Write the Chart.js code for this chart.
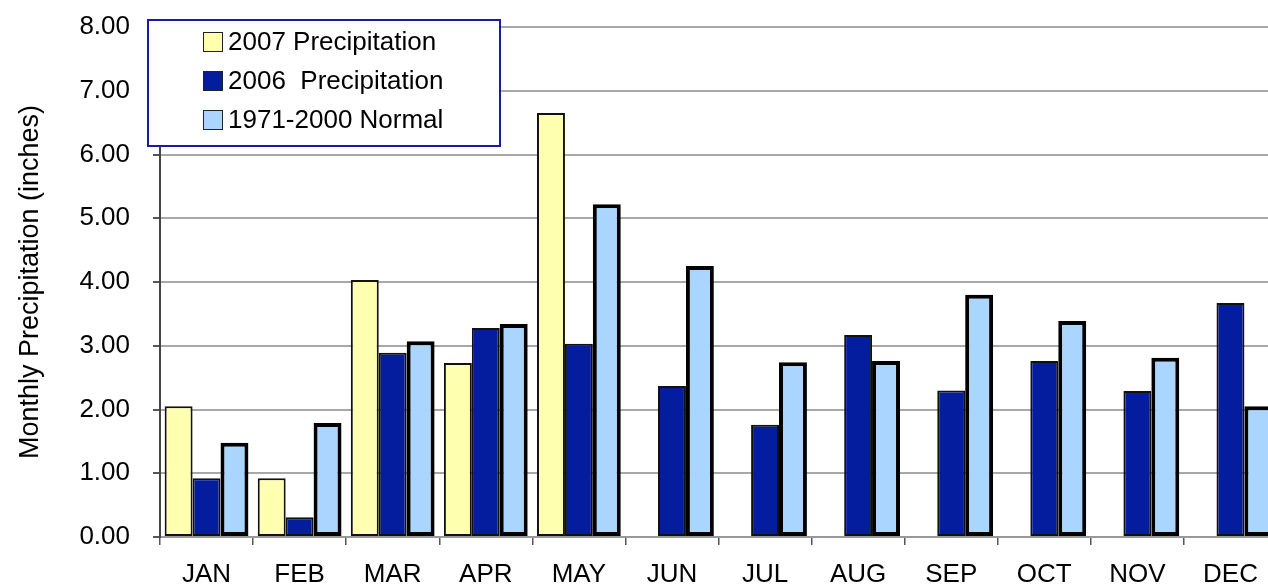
<!DOCTYPE html>
<html>
<head>
<meta charset="utf-8">
<script src="https://cdn.jsdelivr.net/npm/chart.js@4"></script>
<style>
  html, body { margin: 0; padding: 0; background: #fff; overflow: hidden; }
  #wrap { width: 1290px; height: 585px; }
</style>
</head>
<body>
<div id="wrap"><canvas id="precipChart" width="1290" height="585"></canvas></div>
<script>
// monthly precipitation, inches
const months = ['JAN', 'FEB', 'MAR', 'APR', 'MAY', 'JUN', 'JUL', 'AUG', 'SEP', 'OCT', 'NOV', 'DEC'];
const precip2007 = [2.05, 0.92, 4.03, 2.73, 6.65, null, null, null, null, null, null, null];
const precip2006 = [0.92, 0.31, 2.89, 3.28, 3.03, 2.37, 1.76, 3.17, 2.30, 2.76, 2.29, 3.67];
const normal7100 = [1.48, 1.79, 3.07, 3.34, 5.22, 4.25, 2.74, 2.76, 3.80, 3.39, 2.81, 2.05];
const yTicks = [0, 1, 2, 3, 4, 5, 6, 7, 8];

const FONT = 'Arial, "Liberation Sans", sans-serif';

// legend drawn by hand so it can sit inside the plot like the original
const boxLegend = {
  id: 'boxLegend',
  afterDraw(chart) {
    const ctx = chart.ctx;
    ctx.save();
    ctx.fillStyle = '#fff';
    ctx.fillRect(148, 20, 352, 126);
    ctx.strokeStyle = '#1a1a9c';
    ctx.lineWidth = 2;
    ctx.strokeRect(148, 20, 352, 126);
    ctx.font = '26px ' + FONT;
    ctx.textBaseline = 'middle';
    chart.data.datasets.forEach((ds, i) => {
      const y = 42 + i * 39;
      ctx.fillStyle = ds.backgroundColor;
      ctx.fillRect(203, y - 10, 20, 20);
      ctx.strokeStyle = '#222';
      ctx.lineWidth = 1;
      ctx.strokeRect(203.5, y - 9.5, 19, 19);
      ctx.fillStyle = '#000';
      ctx.fillText(ds.label, 228, y + 1);
    });
    ctx.restore();
  }
};

new Chart(document.getElementById('precipChart').getContext('2d'), {
  type: 'bar',
  data: {
    labels: months,
    datasets: [
      { label: '2007 Precipitation', data: precip2007, backgroundColor: '#ffffb0', borderColor: '#111', borderWidth: 2 },
      { label: '2006  Precipitation', data: precip2006, backgroundColor: '#041c9e', borderColor: '#111', borderWidth: 2 },
      { label: '1971-2000 Normal', data: normal7100, backgroundColor: '#a9d5ff', borderColor: '#000', borderWidth: 4 }
    ]
  },
  options: {
    responsive: false,
    animation: false,
    layout: { autoPadding: false, padding: { top: 27, left: 0, right: 13, bottom: 0 } },
    datasets: { bar: { categoryPercentage: 0.9, barPercentage: 1.0, borderSkipped: false } },
    plugins: { legend: { display: false }, tooltip: { enabled: false } },
    scales: {
      x: {
        afterFit(scale) { scale.height = 48; scale.paddingLeft = 0; scale.paddingRight = 0; },
        grid: { offset: true, drawOnChartArea: false, drawTicks: true, tickLength: 8, color: '#555', lineWidth: 1.5 },
        border: { color: '#999', width: 2 },
        ticks: { color: '#000', padding: 14, font: { size: 26, family: FONT } }
      },
      y: {
        min: 0,
        max: 8,
        afterFit(scale) { scale.width = 160; scale.paddingTop = 0; scale.paddingBottom = 0; },
        afterBuildTicks(scale) { scale.ticks = yTicks.map(v => ({ value: v })); },
        grid: { color: '#a8a8a8', lineWidth: 2, tickColor: '#555', tickLength: 7 },
        border: { color: '#444', width: 2 },
        ticks: { color: '#000', padding: 23, font: { size: 26, family: FONT }, callback: v => v.toFixed(2) },
        title: { display: true, text: 'Monthly Precipitation (inches)', color: '#000', padding: { top: 14, bottom: 12 }, font: { size: 27, family: FONT } }
      }
    }
  },
  plugins: [boxLegend]
});
</script>
</body>
</html>
